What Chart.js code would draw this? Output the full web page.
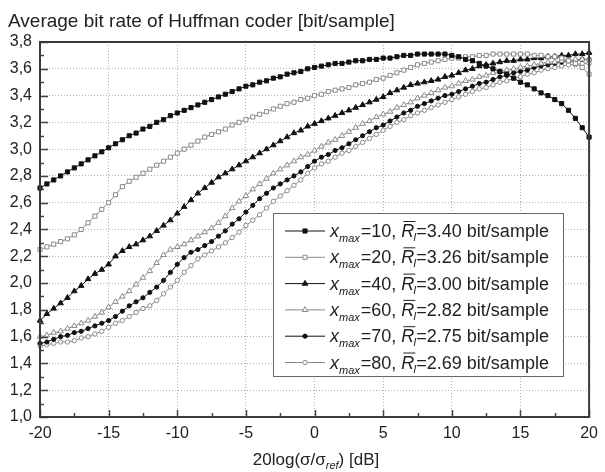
<!DOCTYPE html>
<html>
<head>
<meta charset="utf-8">
<script src="https://cdn.jsdelivr.net/npm/chart.js@4.4.1/dist/chart.umd.min.js"></script>
<style>
  html, body { margin: 0; padding: 0; background: #fff; }
  #wrap { width: 605px; height: 472px; position: relative; }
</style>
</head>
<body>
<div id="wrap"><canvas id="myChart" width="605" height="472"></canvas></div>
<script>
// signal-to-reference level in dB (x axis)
const db = [
  -20, -19.5, -19, -18.5, -18, -17.5, -17, -16.5, -16, -15.5,
  -15, -14.5, -14, -13.5, -13, -12.5, -12, -11.5, -11, -10.5,
  -10, -9.5, -9, -8.5, -8, -7.5, -7, -6.5, -6, -5.5,
  -5, -4.5, -4, -3.5, -3, -2.5, -2, -1.5, -1, -0.5,
  0, 0.5, 1, 1.5, 2, 2.5, 3, 3.5, 4, 4.5,
  5, 5.5, 6, 6.5, 7, 7.5, 8, 8.5, 9, 9.5,
  10, 10.5, 11, 11.5, 12, 12.5, 13, 13.5, 14, 14.5,
  15, 15.5, 16, 16.5, 17, 17.5, 18, 18.5, 19, 19.5,
  20
];

// average bit rate per series [bit/sample]
const xmax10 = [
  2.71, 2.74, 2.77, 2.80, 2.83, 2.86, 2.89, 2.92, 2.95, 2.98,
  3.01, 3.04, 3.07, 3.10, 3.12, 3.15, 3.17, 3.20, 3.22, 3.25,
  3.27, 3.29, 3.31, 3.33, 3.35, 3.37, 3.39, 3.41, 3.43, 3.45,
  3.47, 3.48, 3.50, 3.51, 3.53, 3.54, 3.56, 3.57, 3.58, 3.60,
  3.61, 3.62, 3.63, 3.64, 3.64, 3.65, 3.66, 3.66, 3.67, 3.67,
  3.68, 3.68, 3.69, 3.70, 3.70, 3.71, 3.71, 3.71, 3.71, 3.71,
  3.70, 3.69, 3.67, 3.66, 3.64, 3.62, 3.60, 3.58, 3.56, 3.53,
  3.50, 3.48, 3.45, 3.42, 3.40, 3.37, 3.34, 3.29, 3.23, 3.16,
  3.09
];
const xmax20 = [
  2.25, 2.27, 2.29, 2.31, 2.33, 2.36, 2.40, 2.45, 2.50, 2.55,
  2.60, 2.66, 2.72, 2.76, 2.79, 2.82, 2.85, 2.88, 2.91, 2.94,
  2.97, 3.00, 3.03, 3.06, 3.09, 3.11, 3.13, 3.15, 3.18, 3.20,
  3.22, 3.24, 3.26, 3.28, 3.30, 3.32, 3.34, 3.35, 3.37, 3.38,
  3.40, 3.41, 3.43, 3.44, 3.45, 3.46, 3.48, 3.49, 3.50, 3.52,
  3.53, 3.55, 3.57, 3.59, 3.61, 3.63, 3.64, 3.65, 3.66, 3.67,
  3.68, 3.68, 3.69, 3.69, 3.70, 3.70, 3.71, 3.71, 3.71, 3.71,
  3.71, 3.71, 3.70, 3.70, 3.69, 3.69, 3.68, 3.66, 3.64, 3.61,
  3.56
];
const xmax40 = [
  1.72, 1.77, 1.81, 1.85, 1.89, 1.94, 1.98, 2.03, 2.07, 2.10,
  2.14, 2.20, 2.24, 2.27, 2.29, 2.32, 2.35, 2.39, 2.43, 2.47,
  2.52, 2.57, 2.62, 2.67, 2.71, 2.75, 2.79, 2.82, 2.85, 2.88,
  2.91, 2.94, 2.97, 3.00, 3.03, 3.06, 3.09, 3.12, 3.14, 3.17,
  3.19, 3.21, 3.23, 3.25, 3.27, 3.29, 3.31, 3.33, 3.35, 3.37,
  3.39, 3.42, 3.44, 3.46, 3.48, 3.49, 3.50, 3.51, 3.52, 3.54,
  3.55, 3.57, 3.59, 3.60, 3.62, 3.63, 3.64, 3.65, 3.66, 3.66,
  3.67, 3.67, 3.68, 3.68, 3.69, 3.69, 3.70, 3.70, 3.71, 3.71,
  3.72
];
const xmax60 = [
  1.60, 1.61, 1.63, 1.64, 1.66, 1.68, 1.70, 1.72, 1.75, 1.78,
  1.82, 1.86, 1.90, 1.94, 1.99, 2.04, 2.09, 2.15, 2.21, 2.25,
  2.27, 2.29, 2.32, 2.35, 2.38, 2.41, 2.45, 2.50, 2.56, 2.61,
  2.65, 2.70, 2.74, 2.78, 2.82, 2.85, 2.88, 2.91, 2.94, 2.96,
  2.99, 3.02, 3.05, 3.07, 3.10, 3.13, 3.16, 3.19, 3.21, 3.24,
  3.26, 3.28, 3.31, 3.33, 3.35, 3.38, 3.40, 3.42, 3.44, 3.46,
  3.47, 3.49, 3.51, 3.52, 3.54, 3.55, 3.57, 3.58, 3.59, 3.60,
  3.61, 3.62, 3.63, 3.64, 3.65, 3.65, 3.66, 3.66, 3.67, 3.67,
  3.67
];
const xmax70 = [
  1.55, 1.56, 1.58, 1.60, 1.61, 1.63, 1.64, 1.66, 1.68, 1.70,
  1.72, 1.75, 1.79, 1.83, 1.86, 1.89, 1.93, 1.97, 2.02, 2.08,
  2.14, 2.19, 2.23, 2.25, 2.28, 2.31, 2.35, 2.39, 2.44, 2.48,
  2.53, 2.58, 2.63, 2.67, 2.71, 2.74, 2.77, 2.80, 2.83, 2.87,
  2.91, 2.94, 2.96, 2.99, 3.01, 3.04, 3.07, 3.10, 3.13, 3.16,
  3.18, 3.21, 3.24, 3.27, 3.29, 3.32, 3.34, 3.36, 3.38, 3.40,
  3.41, 3.43, 3.45, 3.47, 3.49, 3.50, 3.52, 3.54, 3.55, 3.57,
  3.58, 3.59, 3.61, 3.62, 3.63, 3.64, 3.65, 3.66, 3.66, 3.67,
  3.67
];
const xmax80 = [
  1.53, 1.54, 1.55, 1.56, 1.56, 1.57, 1.59, 1.60, 1.62, 1.64,
  1.67, 1.70, 1.72, 1.75, 1.78, 1.81, 1.83, 1.87, 1.92, 1.97,
  2.02, 2.08, 2.13, 2.18, 2.21, 2.24, 2.27, 2.30, 2.34, 2.38,
  2.43, 2.47, 2.51, 2.56, 2.61, 2.65, 2.69, 2.73, 2.77, 2.82,
  2.86, 2.89, 2.91, 2.94, 2.97, 2.99, 3.02, 3.05, 3.08, 3.11,
  3.14, 3.17, 3.20, 3.22, 3.25, 3.27, 3.29, 3.31, 3.33, 3.35,
  3.37, 3.39, 3.41, 3.43, 3.45, 3.46, 3.48, 3.50, 3.51, 3.53,
  3.54, 3.56, 3.57, 3.59, 3.60, 3.61, 3.62, 3.63, 3.63, 3.64,
  3.64
];

// legend texts
const xmaxLabels = ['10', '20', '40', '60', '70', '80'];
const rateLabels = ['3.40', '3.26', '3.00', '2.82', '2.75', '2.69'];

// axis ticks
const xTicks = [-20, -15, -10, -5, 0, 5, 10, 15, 20];
const yTicks = [1.0, 1.2, 1.4, 1.6, 1.8, 2.0, 2.2, 2.4, 2.6, 2.8, 3.0, 3.2, 3.4, 3.6, 3.8];

const FONT = '"Liberation Sans", Arial, sans-serif';
const BLACK = '#111';
const GREY = '#8a8a8a';

function series(values, style, filled, radius) {
  return {
    data: db.map((x, i) => ({ x: x, y: values[i] })),
    borderColor: filled ? BLACK : GREY,
    borderWidth: 1,
    pointStyle: style,
    pointRadius: radius,
    pointBorderWidth: 1,
    pointBackgroundColor: filled ? BLACK : '#fff',
    pointBorderColor: filled ? BLACK : GREY,
    tension: 0,
    clip: false,
  };
}

// title, frame, inward ticks and the legend
const decorations = {
  id: 'decorations',
  afterDatasetsDraw(chart) {
    const ctx = chart.ctx;
    const a = chart.chartArea;
    const xs = chart.scales.x;
    const ys = chart.scales.y;
    ctx.save();

    // title
    ctx.fillStyle = '#222';
    ctx.font = '19px ' + FONT;
    ctx.textBaseline = 'alphabetic';
    ctx.textAlign = 'left';
    ctx.fillText('Average bit rate of Huffman coder [bit/sample]', 8, 27);

    // inward ticks
    ctx.strokeStyle = '#444';
    ctx.lineWidth = 1.5;
    ctx.beginPath();
    for (let v = 1.0; v <= 3.801; v += 0.1) {
      const y = Math.round(ys.getPixelForValue(v)) + 0.5;
      const major = Math.round(v * 10) % 2 === 0;
      ctx.moveTo(a.left, y);
      ctx.lineTo(a.left + (major ? 8 : 4), y);
    }
    for (let v = -20; v <= 20; v += 2.5) {
      const x = Math.round(xs.getPixelForValue(v)) + 0.5;
      const major = v % 5 === 0;
      ctx.moveTo(x, a.bottom);
      ctx.lineTo(x, a.bottom - (major ? 7 : 4));
    }
    ctx.stroke();

    // frame
    ctx.strokeStyle = '#3a3a3a';
    ctx.lineWidth = 2;
    ctx.strokeRect(a.left, a.top, a.right - a.left, a.bottom - a.top);

    // legend
    const lx = 273, ly = 213, lw = 291, lh = 164;
    ctx.fillStyle = '#fff';
    ctx.fillRect(lx, ly, lw, lh);
    ctx.strokeStyle = '#666';
    ctx.lineWidth = 1;
    ctx.strokeRect(lx + 0.5, ly + 0.5, lw - 1, lh - 1);

    chart.data.datasets.forEach((ds, i) => {
      const cy = 231 + i * 26.3;
      ctx.strokeStyle = ds.borderColor;
      ctx.lineWidth = 1;
      ctx.beginPath();
      ctx.moveTo(285, cy);
      ctx.lineTo(325, cy);
      ctx.stroke();
      ctx.fillStyle = ds.pointBackgroundColor;
      ctx.strokeStyle = ds.pointBorderColor;
      Chart.helpers.drawPoint(ctx, { pointStyle: ds.pointStyle, radius: ds.pointRadius, borderWidth: 1, rotation: 0 }, 305, cy);

      const base = cy + 6;
      let x = 330;
      ctx.fillStyle = '#222';
      ctx.textAlign = 'left';
      ctx.font = 'italic 18px ' + FONT;
      ctx.fillText('x', x, base);
      x += ctx.measureText('x').width;
      ctx.font = 'italic 11px ' + FONT;
      ctx.fillText('max', x, base + 5);
      x += ctx.measureText('max').width + 1;
      ctx.font = '18px ' + FONT;
      const mid = '=' + xmaxLabels[i] + ', ';
      ctx.fillText(mid, x, base);
      x += ctx.measureText(mid).width;
      ctx.font = 'italic 18px ' + FONT;
      ctx.fillText('R', x, base);
      const rw = ctx.measureText('R').width;
      ctx.strokeStyle = '#222';
      ctx.beginPath();
      ctx.moveTo(x + 2, base - 15.5);
      ctx.lineTo(x + rw + 1, base - 15.5);
      ctx.stroke();
      x += rw;
      ctx.font = 'italic 11px ' + FONT;
      ctx.fillText('I', x - 1, base + 4);
      x += 2;
      ctx.font = '18px ' + FONT;
      ctx.fillText('=' + rateLabels[i] + ' bit/sample', x, base);
    });

    // x axis title with subscript
    const t1 = '20log(\u03c3/\u03c3', t2 = 'ref', t3 = ') [dB]';
    ctx.font = '17px ' + FONT;
    const w1 = ctx.measureText(t1).width, w3 = ctx.measureText(t3).width;
    ctx.font = 'italic 11px ' + FONT;
    const w2 = ctx.measureText(t2).width;
    let tx = 316 - (w1 + w2 + w3) / 2;
    const tb = 465;
    ctx.fillStyle = '#222';
    ctx.font = '17px ' + FONT;
    ctx.fillText(t1, tx, tb);
    tx += w1;
    ctx.font = 'italic 11px ' + FONT;
    ctx.fillText(t2, tx, tb + 4);
    tx += w2;
    ctx.font = '17px ' + FONT;
    ctx.fillText(t3, tx, tb);

    ctx.restore();
  }
};

document.addEventListener('DOMContentLoaded', () => {
  const ctx = document.getElementById('myChart');

  new Chart(ctx, {
    type: 'line',
    data: {
      datasets: [
        series(xmax10, 'rect', true, 2.9),
        series(xmax20, 'rect', false, 2.9),
        series(xmax40, 'triangle', true, 3.2),
        series(xmax60, 'triangle', false, 3.2),
        series(xmax70, 'circle', true, 2.1),
        series(xmax80, 'circle', false, 2.2),
      ],
    },
    options: {
      responsive: false,
      animation: false,
      events: [],
      layout: { padding: { top: 42, right: 10, left: 0, bottom: 0 } },
      plugins: {
        legend: { display: false },
        tooltip: { enabled: false },
      },
      scales: {
        x: {
          type: 'linear',
          min: -20,
          max: 20,
          afterBuildTicks: (s) => { s.ticks = xTicks.map((v) => ({ value: v })); },
          afterFit: (s) => { s.height = 55; },
          ticks: {
            color: '#222',
            font: { family: FONT, size: 16 },
            padding: 7,
            maxRotation: 0,
            autoSkip: false,
          },
          grid: { color: '#b0b0b0', lineWidth: 1, drawTicks: false },
          border: { display: false, dash: [1, 2] },
        },
        y: {
          min: 1.0,
          max: 3.8,
          afterBuildTicks: (s) => { s.ticks = yTicks.map((v) => ({ value: v })); },
          afterFit: (s) => { s.width = 40; },
          ticks: {
            color: '#222',
            font: { family: FONT, size: 16 },
            padding: 8,
            callback: (v) => Number(v).toFixed(1).replace('.', ','),
          },
          grid: { color: '#b0b0b0', lineWidth: 1, drawTicks: false },
          border: { display: false, dash: [1, 2] },
        },
      },
    },
    plugins: [decorations],
  });
});
</script>
</body>
</html>
